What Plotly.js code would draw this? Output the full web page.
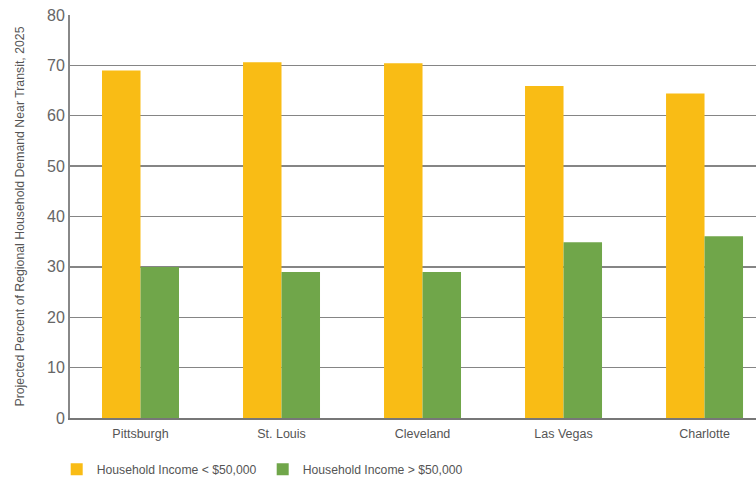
<!DOCTYPE html>
<html>
<head>
<meta charset="utf-8">
<script src="https://cdn.plot.ly/plotly-3.0.1.min.js"></script>
<style>html,body{margin:0;padding:0;background:#fff;}#chart{width:756px;height:477px;}</style>
</head>
<body>
<div id="chart"></div>
<script>
const cities = ["Pittsburgh", "St. Louis", "Cleveland", "Las Vegas", "Charlotte"];
const incomeBelow50k = [69, 70.6, 70.4, 65.9, 64.4];
const incomeAbove50k = [30, 29, 29, 34.9, 36.1];
const seriesNames = ["Household Income < $50,000", "Household Income > $50,000"];
const yTicks = [0, 10, 20, 30, 40, 50, 60, 70, 80];

const font = "'Liberation Sans Narrow', 'Arial Narrow', 'Liberation Sans', Arial, sans-serif";

const data = [
  {type: "bar", name: seriesNames[0], x: cities, y: incomeBelow50k, marker: {color: "#F9BC15"}},
  {type: "bar", name: seriesNames[1], x: cities, y: incomeAbove50k, marker: {color: "#70A64A"}}
];

const layout = {
  width: 756, height: 477,
  margin: {l: 70, r: 0, t: 15, b: 59},
  paper_bgcolor: "#fff", plot_bgcolor: "#fff",
  barmode: "group", bargap: 0.454, bargroupgap: 0,
  font: {family: font, color: "#555"},
  showlegend: true,
  legend: {orientation: "h", xref: "container", yref: "container",
           x: 0.075, xanchor: "left", y: 0.016, yanchor: "middle",
           font: {family: font, size: 12.2, color: "#555"}, traceorder: "normal",
           entrywidth: 161, entrywidthmode: "pixels"},
  xaxis: {range: [-0.5, 4.365], showgrid: false, showline: true, linecolor: "#777", linewidth: 2,
          ticks: "", ticklabelstandoff: 3, tickfont: {family: font, size: 12.5, color: "#555"}, fixedrange: true},
  yaxis: {range: [0, 80], tickvals: yTicks, showgrid: true, gridcolor: "#858585", gridwidth: 1.3,
          showline: true, linecolor: "#888", linewidth: 2, zeroline: false, ticks: "",
          tickfont: {family: font, size: 16, color: "#666"},
          title: {text: "Projected Percent of Regional Household Demand Near Transit, 2025",
                  font: {family: font, size: 12.3, color: "#555"}, standoff: 20}}
};

Plotly.newPlot("chart", data, layout, {displayModeBar: false, staticPlot: true});
</script>
</body>
</html>
